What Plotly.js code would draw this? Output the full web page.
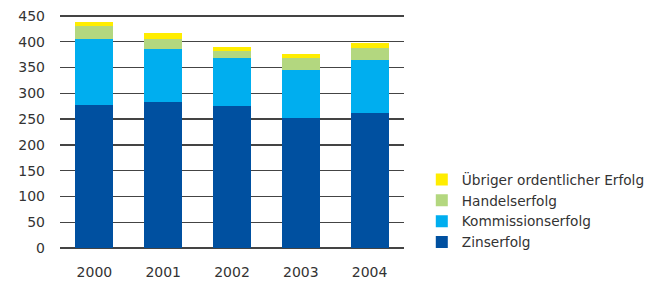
<!DOCTYPE html>
<html><head><meta charset="utf-8">
<script src="https://cdn.plot.ly/plotly-3.0.1.min.js"></script>
<style>html,body{margin:0;padding:0;background:#fff}</style>
</head><body>
<div id="chart" style="width:657px;height:285px"></div>
<script>
var years = ['2000','2001','2002','2003','2004'];
var zinserfolg = [277, 283, 275, 252, 262];
var kommissionserfolg = [128, 103, 94, 93, 103];
var handelserfolg = [26, 19, 13, 24, 23];
var uebriger = [8, 12, 8, 8, 10];
var names = ['Zinserfolg','Kommissionserfolg','Handelserfolg','Übriger ordentlicher Erfolg'];
var colors = ['#0050A0','#00AEEF','#B3D77F','#FFED00'];
var series = [zinserfolg, kommissionserfolg, handelserfolg, uebriger];
var data = series.map(function(s,i){
  return {type:'bar', x:years, y:s, name:names[i], marker:{color:colors[i], line:{width:0}}, hoverinfo:'none'};
});
var layout = {
  width:657, height:285,
  margin:{l:60, r:253, t:15, b:37, autoexpand:false},
  barmode:'stack', bargap:0.45,
  paper_bgcolor:'#fff', plot_bgcolor:'#fff',
  font:{family:'"DejaVu Sans", sans-serif', size:14, color:'#333'},
  showlegend:true,
  legend:{traceorder:'reversed', xref:'container', x:0.642, xanchor:'left', y:0.36, yanchor:'top',
          font:{size:13.7, color:'#333'}, itemwidth:30, tracegroupgap:0, bgcolor:'rgba(0,0,0,0)'},
  xaxis:{type:'category', showgrid:false, ticks:'', tickfont:{size:14}, ticklabelstandoff:14, showline:false, zeroline:false},
  yaxis:{range:[0,452], tickvals:[0,50,100,150,200,250,300,350,400,450], showgrid:true, gridcolor:'#444', gridwidth:1.3,
         zeroline:true, zerolinecolor:'#444', zerolinewidth:1.3, ticks:'', ticklabelstandoff:14,
         tickfont:{size:14}, showline:false}
};
Plotly.newPlot('chart', data, layout, {staticPlot:true, displayModeBar:false});
</script>
</body></html>
